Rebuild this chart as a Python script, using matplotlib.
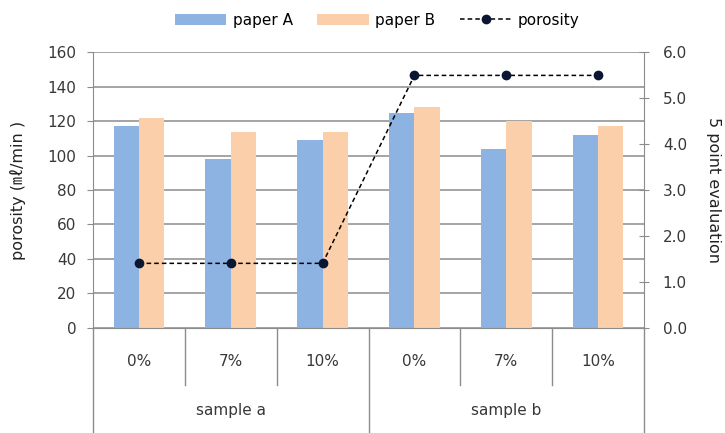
import matplotlib.pyplot as plt
import numpy as np

plt.rcParams['font.family'] = ['DejaVu Sans', 'Noto Sans CJK KR']

# porosity data per sample / additive level
groups = ["sample a", "sample b"]
levels = ["0%", "7%", "10%", "0%", "7%", "10%"]
paper_a = [117, 98, 109, 125, 104, 112]
paper_b = [122, 114, 114, 128, 120, 117]
evaluation = [1.4, 1.4, 1.4, 5.5, 5.5, 5.5]

blue = "#8DB3E2"
peach = "#FBCFA9"
grid_c = "#8C8C8C"
text_c = "#383838"

fig = plt.figure(figsize=(7.25, 4.33), dpi=100)
ax = fig.add_axes([93 / 725, 0.2436, 551 / 725, 0.6352])
x = np.arange(len(levels))
w = 0.275

ax.bar(x - w / 2, paper_a, w, color=blue, label="paper A", zorder=2)
ax.bar(x + w / 2, paper_b, w, color=peach, label="paper B", zorder=2)

ax.set_xlim(-0.5, len(levels) - 0.5)
ax.set_ylim(0, 160)
ax.set_yticks(range(0, 161, 20))
ax.yaxis.grid(True, color=grid_c, linewidth=1.1, zorder=0)
ax.set_axisbelow(True)
ax.set_xticks([])
for side in ["top", "right"]:
    ax.spines[side].set_visible(False)
for side in ["left", "bottom"]:
    ax.spines[side].set_color(grid_c)
ax.tick_params(axis="y", colors=grid_c, labelcolor=text_c, labelsize=11,
               length=4, direction="out", pad=8)
ax.set_ylabel("porosity (㎖/min )", fontsize=11.5, color="#222222",
              va="center")
ax.yaxis.set_label_coords(-0.137, 0.5)

# category / group labels with divider lines under the axis
tr = ax.get_xaxis_transform()
for i, lab in enumerate(levels):
    ax.text(x[i], -0.125, lab, transform=tr, ha="center", va="center",
            fontsize=11, color=text_c)
for b in np.arange(-0.5, len(levels), 1.0):
    outer = b in (-0.5, 2.5, 5.5)
    ax.plot([b, b], [0, -0.39 if outer else -0.21], transform=tr,
            color=grid_c, linewidth=1.0, clip_on=False)
for j, g in enumerate(groups):
    ax.text(1 + 3 * j, -0.30, g, transform=tr, ha="center", va="center",
            fontsize=11, color=text_c)

ax2 = ax.twinx()
ax2.plot(x, evaluation, linestyle=(0, (3, 2)), color="black", linewidth=1.1,
         marker="o", markersize=6, markerfacecolor="#0B1633",
         markeredgecolor="#0B1633", label="porosity", zorder=3)
ax2.set_ylim(0, 6)
ax2.set_yticks(np.arange(0, 6.01, 1.0))
ax2.set_yticklabels([f"{v:.1f}" for v in np.arange(0, 6.01, 1.0)])
for side in ["top", "left", "bottom"]:
    ax2.spines[side].set_visible(False)
ax2.spines["right"].set_color(grid_c)
ax2.tick_params(axis="y", colors=grid_c, labelcolor=text_c, labelsize=11,
                length=7, direction="inout", pad=10)
ax2.set_ylabel("5 point evaluation", fontsize=11.5, color="#222222",
               rotation=270, va="center")
ax2.yaxis.set_label_coords(1.127, 0.5)

h1, l1 = ax.get_legend_handles_labels()
h2, l2 = ax2.get_legend_handles_labels()
fig.legend(h1 + h2, l1 + l2, loc="center", ncol=3, frameon=False,
           bbox_to_anchor=(0.52, 0.953), fontsize=11, handlelength=3.4,
           handleheight=0.75, columnspacing=1.6, handletextpad=0.4)

fig.savefig("out.png", dpi=100)
